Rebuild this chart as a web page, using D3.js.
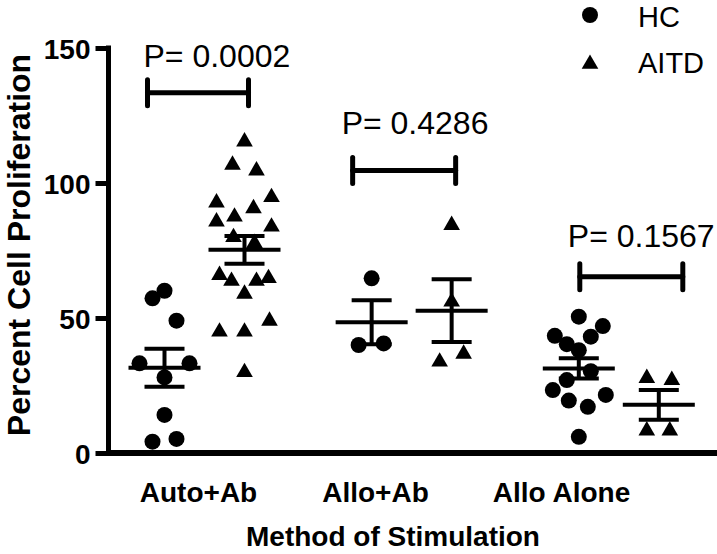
<!DOCTYPE html>
<html>
<head>
<meta charset="utf-8">
<script src="https://cdn.jsdelivr.net/npm/d3@7"></script>
<style>
  html, body { margin: 0; padding: 0; background: #fff; }
  svg { display: block; font-family: "Liberation Sans", Arial, sans-serif; }
</style>
</head>
<body>
<svg id="chart" width="717" height="554"></svg>
<script>
// ---------- data ----------
const categories = ["Auto+Ab", "Allo+Ab", "Allo Alone"];
const seriesNames = ["HC", "AITD"];
const yTicks = [0, 50, 100, 150];

// Percent cell proliferation, per individual
const hcAutoAb   = [60.1, 57.3, 49.0, 33.2, 33.2, 28.0, 14.1, 5.2, 4.2];
const aitdAutoAb = [115.3, 106.7, 104.6, 94.7, 92.7, 90.6, 87.5, 85.7, 83.8, 79.9, 77.7,
                    65.9, 64.7, 63.7, 63.7, 58.9, 48.9, 44.9, 44.9, 29.9];
const hcAlloAb   = [64.7, 40.6, 40.0];
const aitdAlloAb = [84.4, 56.0, 36.7, 33.8];
const hcAlloAlone   = [50.5, 47.0, 43.4, 43.1, 40.3, 38.1, 30.3, 27.0, 23.3, 21.5, 19.4, 17.1, 6.0];
const aitdAlloAlone = [27.7, 27.0, 8.3, 8.3];

// p-values of the comparisons
const pLabels = ["P= 0.0002", "P= 0.4286", "P= 0.1567"];

// ---------- layout helpers (horizontal scatter offsets in px) ----------
const hcAutoAbJit   = [0, -12, 12, -25, 25, 0, 0, 12, -12];
const aitdAutoAbJit = [0, -12, 12, 27, -28, 9, -10, -28, 27, -11, 10, -25, 24, -13, 12, 0, 25, -25, 0, 0];
const hcAlloAbJit   = [0, 12, -13];
const aitdAlloAbJit = [0, 0, 12, -12];
const hcAlloAloneJit   = [0, 24, -24, 12, -12, 0, 12, -12, -26, 27, -10, 9, 0];
const aitdAlloAloneJit = [-12, 13, -12, 11];

const groups = [
  { cat: categories[0], hc: hcAutoAb, aitd: aitdAutoAb, hcJ: hcAutoAbJit, aitdJ: aitdAutoAbJit },
  { cat: categories[1], hc: hcAlloAb, aitd: aitdAlloAb, hcJ: hcAlloAbJit, aitdJ: aitdAlloAbJit },
  { cat: categories[2], hc: hcAlloAlone, aitd: aitdAlloAlone, hcJ: hcAlloAloneJit, aitdJ: aitdAlloAloneJit }
];

// annotation layout
const bracketLevel = [133.4, 104.6, 65.3];     // in y units
const pTextLevel   = [143.1, 118.1, 76.3];     // baseline in y units
const bracketDx    = [[-17, 4], [-19, 4], [1, 24]];
const pTextDx      = [-4, -11, -12];

// ---------- scales ----------
const svg = d3.select("#chart");
const y = d3.scaleLinear().domain([0, 150]).range([453, 48]);
const xGroup = d3.scalePoint().domain(categories).range([204.5, 618.8]);
const xLabel = d3.scaleOrdinal().domain(categories).range([198, 375, 561]);
const xSeries = d3.scalePoint().domain(seriesNames).range([-40, 40]);

const axisX0 = 108.5;

// ---------- axes ----------
const yAxis = d3.axisLeft(y).tickValues(yTicks).tickSize(13).tickSizeOuter(0).tickPadding(5);
const gy = svg.append("g").attr("transform", `translate(${axisX0},0)`).call(yAxis);
gy.select(".domain").attr("stroke", "#000").attr("stroke-width", 5)
  .attr("d", `M0,${y(0) + 3}V${y(150) - 2.5}`);
gy.selectAll(".tick line").attr("stroke", "#000").attr("stroke-width", 5);
gy.selectAll(".tick text").attr("fill", "#000").attr("font-size", 28).attr("font-weight", "bold")
  .attr("font-family", "Liberation Sans, Arial, sans-serif").attr("dy", "0.38em");

const xAxis = d3.axisBottom(xLabel).tickSize(0).tickPadding(0);
const gx = svg.append("g").attr("transform", `translate(0,${y(0)})`).call(xAxis);
gx.select(".domain").attr("stroke", "#000").attr("stroke-width", 6)
  .attr("d", `M${axisX0 - 2.5},0H717`);
gx.selectAll(".tick text").attr("fill", "#000").attr("font-size", 28).attr("font-weight", "bold")
  .attr("font-family", "Liberation Sans, Arial, sans-serif").attr("dy", null).attr("y", 49);

// axis titles
svg.append("text").attr("x", 393).attr("y", 546).attr("text-anchor", "middle")
  .attr("font-size", 28).attr("font-weight", "bold").text("Method of Stimulation");
svg.append("text").attr("transform", "translate(30,245) rotate(-90)").attr("text-anchor", "middle")
  .attr("font-size", 32).attr("font-weight", "bold").text("Percent Cell Proliferation");

// ---------- marks ----------
const tri = d3.symbol().type(d3.symbolTriangle).size(120);
const plot = svg.append("g");

groups.forEach((g, gi) => {
  const cx = { HC: xGroup(g.cat) + xSeries("HC"), AITD: xGroup(g.cat) + xSeries("AITD") };

  // points
  plot.selectAll(null).data(g.hc.map((v, i) => ({ v, j: g.hcJ[i] }))).join("circle")
    .attr("cx", d => cx.HC + d.j).attr("cy", d => y(d.v)).attr("r", 8).attr("fill", "#000");
  plot.selectAll(null).data(g.aitd.map((v, i) => ({ v, j: g.aitdJ[i] }))).join("path")
    .attr("d", tri).attr("transform", d => `translate(${cx.AITD + d.j},${y(d.v)})`).attr("fill", "#000");

  // mean +/- SEM
  [["HC", g.hc], ["AITD", g.aitd]].forEach(([s, vals]) => {
    const m = d3.mean(vals);
    const sem = d3.deviation(vals) / Math.sqrt(vals.length);
    const x0 = cx[s];
    const eg = plot.append("g").attr("stroke", "#000").attr("stroke-width", 4);
    eg.append("line").attr("x1", x0 - 36).attr("x2", x0 + 36).attr("y1", y(m)).attr("y2", y(m));
    eg.append("line").attr("x1", x0).attr("x2", x0).attr("y1", y(m - sem)).attr("y2", y(m + sem));
    eg.append("line").attr("x1", x0 - 20).attr("x2", x0 + 20).attr("y1", y(m + sem)).attr("y2", y(m + sem));
    eg.append("line").attr("x1", x0 - 20).attr("x2", x0 + 20).attr("y1", y(m - sem)).attr("y2", y(m - sem));
  });

  // significance bracket
  const xl = cx.HC + bracketDx[gi][0], xr = cx.AITD + bracketDx[gi][1], yb = y(bracketLevel[gi]);
  const bg = plot.append("g").attr("stroke", "#000").attr("stroke-width", 5).attr("stroke-linecap", "round");
  bg.append("line").attr("x1", xl).attr("x2", xr).attr("y1", yb).attr("y2", yb);
  bg.append("line").attr("x1", xl).attr("x2", xl).attr("y1", yb - 13).attr("y2", yb + 13);
  bg.append("line").attr("x1", xr).attr("x2", xr).attr("y1", yb - 13).attr("y2", yb + 13);
  plot.append("text").attr("x", xl + pTextDx[gi]).attr("y", y(pTextLevel[gi]))
    .attr("font-size", 32).attr("fill", "#000").text(pLabels[gi]);
});

// ---------- legend ----------
const leg = svg.append("g");
leg.append("circle").attr("cx", 590).attr("cy", 15).attr("r", 8).attr("fill", "#000");
leg.append("path").attr("d", tri).attr("transform", "translate(590,64)").attr("fill", "#000");
leg.append("text").attr("x", 638).attr("y", 27).attr("font-size", 29).text(seriesNames[0]);
leg.append("text").attr("x", 638).attr("y", 73).attr("font-size", 29).text(seriesNames[1]);
</script>
</body>
</html>
